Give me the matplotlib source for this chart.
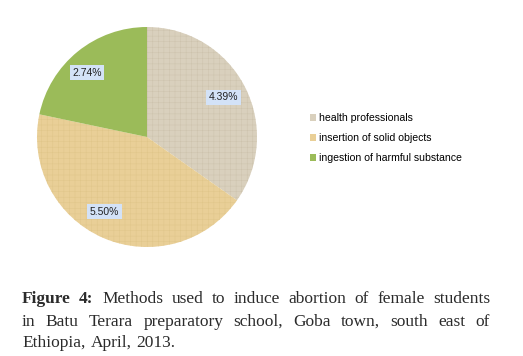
import numpy as np
import matplotlib
matplotlib.use("Agg")
from matplotlib import pyplot as plt
from matplotlib.patches import Patch

# data
methods = ["health professionals", "insertion of solid objects",
           "ingestion of harmful substance"]
values = [4.39, 5.50, 2.74]
value_labels = ["4.39%", "5.50%", "2.74%"]
colors = ["#d9d0bd", "#e9cf97", "#9bbb59"]
hatch_colors = ["#cdc3ad", "#e0c68a", None]

caption = [
    [("Figure", True), ("4:", True), ("Methods", False), ("used", False), ("to", False),
     ("induce", False), ("abortion", False), ("of", False), ("female", False), ("students", False)],
    [(w, False) for w in "in Batu Terara preparatory school, Goba town, south east of".split()],
    [(w, False) for w in "Ethiopia, April, 2013.".split()],
]

plt.rcParams["hatch.linewidth"] = 0.35

fig = plt.figure(figsize=(5.23, 3.56), dpi=100)
W, H = 523, 356

# pie axes: centre (147,137) px, radius 110 px
ax = fig.add_axes([37 / W, (H - 247) / H, 220 / W, 220 / H])
wedges, _ = ax.pie(values, colors=colors, startangle=90, counterclock=False,
                   radius=1.0, wedgeprops=dict(linewidth=0))
for w, hc in zip(wedges, hatch_colors):
    if hc:
        w.set_hatch("+++")
        w.set_edgecolor(hc)
ax.set_xlim(-1, 1)
ax.set_ylim(-1, 1)
ax.set_aspect("equal")

label_r = [0.78, 0.78, 0.80]
label_shift = [0, -6, 4]  # degrees, away from the wedge middle
for w, lab, r, s in zip(wedges, value_labels, label_r, label_shift):
    ang = np.deg2rad((w.theta1 + w.theta2) / 2 + s)
    ax.text(r * np.cos(ang), r * np.sin(ang), lab, ha="center", va="center",
            fontsize=7.5, family="Liberation Sans", color="#222222",
            bbox=dict(boxstyle="square,pad=0.25", facecolor="#d3e2f7", edgecolor="none"))

# legend
handles = [Patch(facecolor=c, edgecolor="none") for c in colors]
fig.legend(handles, methods, loc="upper left", bbox_to_anchor=(310 / W, 1 - 113 / H),
           frameon=False, prop=dict(family="Liberation Sans", size=7.6),
           handlelength=0.6, handleheight=0.6, handletextpad=0.25, labelspacing=0.95,
           borderpad=0, borderaxespad=0)

# justified caption
left, right = 22, 490
line_y = [303, 326, 347]
renderer = fig.canvas.get_renderer()
for i, (words, y) in enumerate(zip(caption, line_y)):
    texts = []
    for word, bold in words:
        t = fig.text(0, 1 - y / H, word, fontsize=12.5, family="Liberation Serif",
                     weight="bold" if bold else "normal", va="baseline", ha="left",
                     color="#2b2b2b")
        texts.append(t)
    widths = [t.get_window_extent(renderer).width for t in texts]
    if i < len(caption) - 1:
        gap = (right - left - sum(widths)) / (len(texts) - 1)
    else:
        gap = 5
    x = left
    for t, wd in zip(texts, widths):
        t.set_x(x / W)
        x += wd + gap

fig.savefig("out.png", dpi=100)
